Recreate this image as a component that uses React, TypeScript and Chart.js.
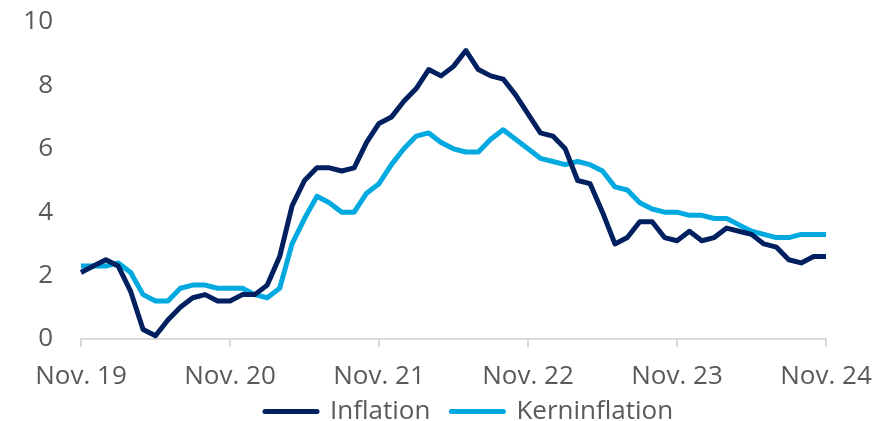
import React, { useEffect, useRef } from 'react';
import { Chart, registerables } from 'chart.js';

Chart.register(...registerables);

const months = [
  'Nov. 19', 'Dez. 19',
  'Jan. 20', 'Feb. 20', 'März 20', 'Apr. 20', 'Mai 20', 'Juni 20', 'Juli 20', 'Aug. 20', 'Sep. 20', 'Okt. 20', 'Nov. 20', 'Dez. 20',
  'Jan. 21', 'Feb. 21', 'März 21', 'Apr. 21', 'Mai 21', 'Juni 21', 'Juli 21', 'Aug. 21', 'Sep. 21', 'Okt. 21', 'Nov. 21', 'Dez. 21',
  'Jan. 22', 'Feb. 22', 'März 22', 'Apr. 22', 'Mai 22', 'Juni 22', 'Juli 22', 'Aug. 22', 'Sep. 22', 'Okt. 22', 'Nov. 22', 'Dez. 22',
  'Jan. 23', 'Feb. 23', 'März 23', 'Apr. 23', 'Mai 23', 'Juni 23', 'Juli 23', 'Aug. 23', 'Sep. 23', 'Okt. 23', 'Nov. 23', 'Dez. 23',
  'Jan. 24', 'Feb. 24', 'März 24', 'Apr. 24', 'Mai 24', 'Juni 24', 'Juli 24', 'Aug. 24', 'Sep. 24', 'Okt. 24', 'Nov. 24',
];

const xTickLabels = ['Nov. 19', 'Nov. 20', 'Nov. 21', 'Nov. 22', 'Nov. 23', 'Nov. 24'];

const inflation = [
  2.1, 2.3,
  2.5, 2.3, 1.5, 0.3, 0.1, 0.6, 1.0, 1.3, 1.4, 1.2, 1.2, 1.4,
  1.4, 1.7, 2.6, 4.2, 5.0, 5.4, 5.4, 5.3, 5.4, 6.2, 6.8, 7.0,
  7.5, 7.9, 8.5, 8.3, 8.6, 9.1, 8.5, 8.3, 8.2, 7.7, 7.1, 6.5,
  6.4, 6.0, 5.0, 4.9, 4.0, 3.0, 3.2, 3.7, 3.7, 3.2, 3.1, 3.4,
  3.1, 3.2, 3.5, 3.4, 3.3, 3.0, 2.9, 2.5, 2.4, 2.6, 2.6,
];

const kerninflation = [
  2.3, 2.3,
  2.3, 2.4, 2.1, 1.4, 1.2, 1.2, 1.6, 1.7, 1.7, 1.6, 1.6, 1.6,
  1.4, 1.3, 1.6, 3.0, 3.8, 4.5, 4.3, 4.0, 4.0, 4.6, 4.9, 5.5,
  6.0, 6.4, 6.5, 6.2, 6.0, 5.9, 5.9, 6.3, 6.6, 6.3, 6.0, 5.7,
  5.6, 5.5, 5.6, 5.5, 5.3, 4.8, 4.7, 4.3, 4.1, 4.0, 4.0, 3.9,
  3.9, 3.8, 3.8, 3.6, 3.4, 3.3, 3.2, 3.2, 3.3, 3.3, 3.3,
];

const seriesNames = ['Inflation', 'Kerninflation'];
const seriesColors = ['#002060', '#00A9E0'];
const textColor = '#595959';
const axisColor = '#d9d9d9';

const legendPlace = {
  id: 'legendPlace',
  afterLayout(chart: any) {
    const lg = chart.legend;
    if (!lg) return;
    lg.left = 244;
    lg.right = 877;
    lg.width = lg.right - lg.left;
    lg.top = 377.5;
    lg.bottom = 421;
    lg.height = lg.bottom - lg.top;
  },
};

export default function App() {
  const canvasRef = useRef<HTMLCanvasElement | null>(null);

  useEffect(() => {
    document.body.style.margin = '0';
    const canvas = canvasRef.current;
    if (!canvas) return;
    const font = { family: "'Open Sans', sans-serif", size: 26 };
    const chart = new Chart(canvas, {
      type: 'line',
      data: {
        labels: months,
        datasets: [
          {
            label: seriesNames[0],
            data: inflation,
            borderColor: seriesColors[0],
            backgroundColor: seriesColors[0],
            borderWidth: 5,
            pointRadius: 0,
            tension: 0,
            borderJoinStyle: 'round',
            fill: false,
          },
          {
            label: seriesNames[1],
            data: kerninflation,
            borderColor: seriesColors[1],
            backgroundColor: seriesColors[1],
            borderWidth: 5,
            pointRadius: 0,
            tension: 0,
            borderJoinStyle: 'round',
            fill: false,
          },
        ],
      },
      options: {
        responsive: false,
        maintainAspectRatio: false,
        animation: false,
        layout: { padding: { left: 20, right: 51, top: 22, bottom: 0 } },
        scales: {
          x: {
            type: 'category',
            offset: false,
            afterFit: (scale: any) => {
              scale.height = 50;
              scale.paddingLeft = 0;
              scale.paddingRight = 0;
            },
            grid: {
              display: true,
              drawOnChartArea: false,
              drawTicks: true,
              tickLength: 8,
              lineWidth: 2,
              color: (ctx: any) => (xTickLabels.includes(months[ctx.index]) ? axisColor : 'rgba(0,0,0,0)'),
            },
            border: { display: true, color: axisColor, width: 2 },
            ticks: {
              autoSkip: false,
              maxRotation: 0,
              minRotation: 0,
              padding: 14,
              color: textColor,
              font,
              callback: (_v: any, index: number) => (xTickLabels.includes(months[index]) ? months[index] : ''),
            },
          },
          y: {
            min: 0,
            max: 10,
            afterFit: (scale: any) => {
              scale.width = 61;
              scale.paddingTop = 0;
              scale.paddingBottom = 0;
            },
            grid: { display: false, drawTicks: false },
            border: { display: false },
            ticks: { stepSize: 2, padding: 28, color: textColor, font },
          },
        },
        plugins: {
          tooltip: { enabled: false },
          legend: {
            display: true,
            position: 'bottom',
            align: 'start',
            maxHeight: 32,
            labels: {
              usePointStyle: true,
              pointStyle: 'line',
              pointStyleWidth: 52,
              padding: 21,
              color: textColor,
              font,
              generateLabels: (c: any) =>
                Chart.defaults.plugins.legend.labels.generateLabels(c).map((l: any) => ({
                  ...l,
                  pointStyle: 'line',
                  lineCap: 'round',
                  lineWidth: 5,
                })),
            },
          },
        },
      },
      plugins: [legendPlace],
    } as any);
    return () => chart.destroy();
  }, []);

  return (
    <div style={{ width: 877, height: 421, background: '#ffffff' }}>
      <canvas ref={canvasRef} width={877} height={421} style={{ display: 'block' }} />
    </div>
  );
}
